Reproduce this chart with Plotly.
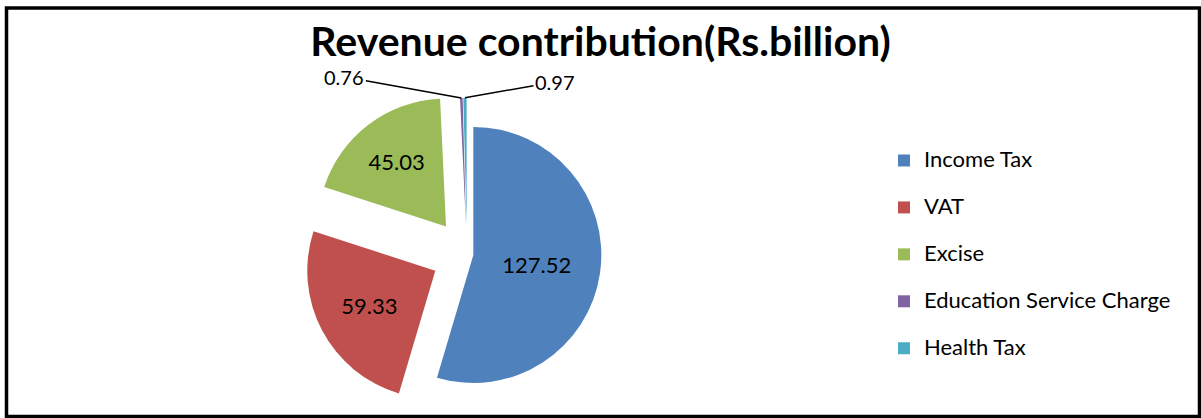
import math
import plotly.graph_objects as go

# ---- data ----
categories = ["Income Tax", "VAT", "Excise", "Education Service Charge", "Health Tax"]
values = [127.52, 59.33, 45.03, 0.76, 0.97]
colors = ["#4F81BD", "#C0504D", "#9BBB59", "#8064A2", "#4BACC6"]
pulls = [0.05, 0.28, 0.27, 0.22, 0.22]
title_text = "Revenue contribution(Rs.billion)"

W, H = 1201, 418

# pie placement (pixels): centre and radius -> domain
PCX, PCY, PR = 467, 254, 128
half = PR * (1 + max(pulls))
dom_x = [(PCX - half) / W, (PCX + half) / W]
dom_y = [max(0.0, 1 - (PCY + half) / H), 1 - (PCY - half) / H]

inside_pos = ["inside", "inside", "inside", "none", "none"]
legend_labels = [f'<span style="font-size:22px">{c}</span><br> ' for c in categories]

fig = go.Figure()
fig.add_trace(go.Pie(
    labels=legend_labels,
    values=values,
    sort=False,
    direction="clockwise",
    rotation=0,
    pull=pulls,
    marker=dict(colors=colors, line=dict(width=0)),
    textinfo="value",
    texttemplate="%{value:.2f}",
    textposition=inside_pos,
    insidetextorientation="horizontal",
    insidetextfont=dict(family="Lato", size=22, color="black"),
    domain=dict(x=dom_x, y=dom_y),
    hoverinfo="skip",
))

# leader-line labels for the tiny slices, computed from pie geometry
total = sum(values)
cx = W * (dom_x[0] + dom_x[1]) / 2
cy = H * (1 - (dom_y[0] + dom_y[1]) / 2)
r = min(W * (dom_x[1] - dom_x[0]), H * (dom_y[1] - dom_y[0])) / (2 + 2 * max(pulls))
label_offsets = {3: (-117, -21), 4: (90, -16)}
cum = 0
annotations = []
for i, v in enumerate(values):
    mid = 2 * math.pi * (cum + v / 2) / total
    cum += v
    if i in label_offsets:
        rr = r * (1 + pulls[i])
        px = cx + rr * math.sin(mid)
        py = cy - rr * math.cos(mid)
        ax, ay = label_offsets[i]
        annotations.append(dict(
            x=px / W, y=1 - py / H, xref="paper", yref="paper",
            text=f"{v:.2f}", showarrow=True, arrowhead=0, arrowwidth=1.5,
            arrowcolor="black", ax=ax, ay=ay, standoff=0,
            font=dict(family="Lato", size=20, color="black"),
        ))

fig.update_layout(
    width=W, height=H,
    margin=dict(l=0, r=0, t=0, b=0),
    paper_bgcolor="white",
    plot_bgcolor="white",
    title=dict(
        text=f"<b>{title_text}</b>",
        x=0.5, xanchor="center",
        y=1 - 42 / H, yanchor="middle",
        font=dict(family="Lato", size=41, color="black"),
    ),
    legend=dict(
        x=884 / W, xanchor="left",
        y=1 - 143 / H, yanchor="top",
        valign="top",
        font=dict(family="Lato", size=16.9, color="black"),
        bgcolor="rgba(0,0,0,0)",
    ),
    annotations=annotations,
    shapes=[dict(
        type="rect", xref="paper", yref="paper",
        x0=6.5 / W, x1=1199.5 / W, y0=1 - 416.5 / H, y1=1 - 8 / H,
        line=dict(color="black", width=3.5), fillcolor="rgba(0,0,0,0)",
    )],
)

fig.write_html(
    "out.html",
    config={"displayModeBar": False},
    post_script="document.body.style.margin='0';",
)
